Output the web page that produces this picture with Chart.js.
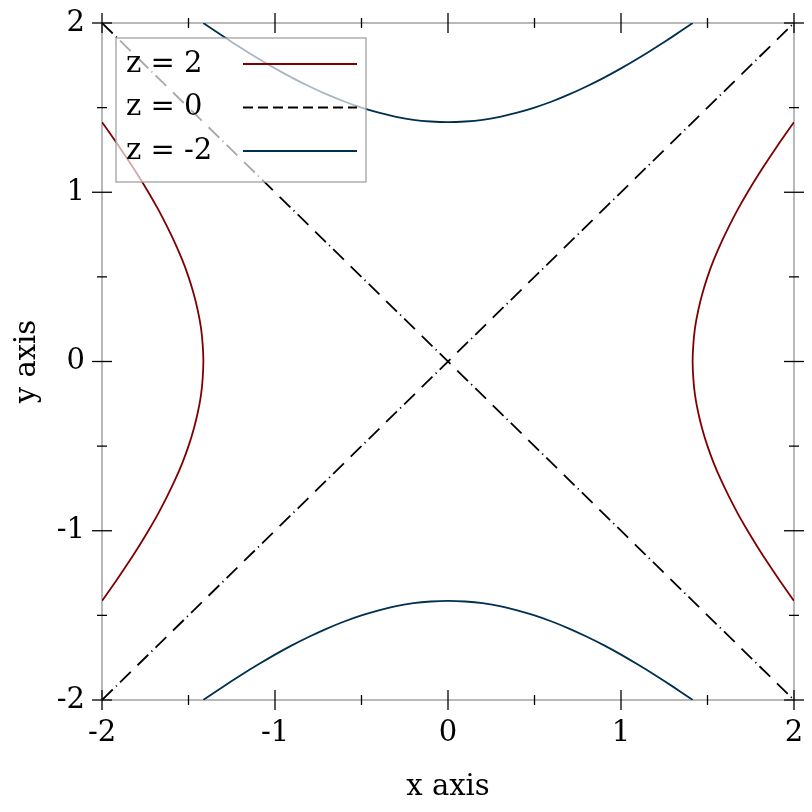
<!DOCTYPE html>
<html>
<head>
<meta charset="utf-8">
<script src="https://cdn.jsdelivr.net/npm/chart.js"></script>
<style>
  html, body { margin: 0; padding: 0; background: #ffffff; }
  #wrap { width: 812px; height: 812px; }
</style>
</head>
<body>
<div id="wrap"><canvas id="contourChart" width="812" height="812"></canvas></div>
<script>
// Etiquetas de la leyenda y colores
const legendLabels = ['z = 2', 'z = 0', 'z = -2'];
const lineColors = ['#800000', '#000000', '#003050'];

// Marcas de los ejes
const majorTicks = [-2, -1, 0, 1, 2];
const minorTicks = [-1.5, -0.5, 0.5, 1.5];

// z = 2, rama derecha e izquierda
const z2RightX = [2.0, 1.99, 1.921, 1.855, 1.792, 1.732, 1.676, 1.625, 1.578, 1.536, 1.5, 1.47, 1.446, 1.428, 1.418, 1.414,
                  1.418, 1.428, 1.446, 1.47, 1.5, 1.536, 1.578, 1.625, 1.676, 1.732, 1.792, 1.855, 1.921, 1.99, 2.0];
const z2RightY = [-1.414, -1.4, -1.3, -1.2, -1.1, -1.0, -0.9, -0.8, -0.7, -0.6, -0.5, -0.4, -0.3, -0.2, -0.1, 0,
                  0.1, 0.2, 0.3, 0.4, 0.5, 0.6, 0.7, 0.8, 0.9, 1.0, 1.1, 1.2, 1.3, 1.4, 1.414];
const z2LeftX = [-2.0, -1.99, -1.921, -1.855, -1.792, -1.732, -1.676, -1.625, -1.578, -1.536, -1.5, -1.47, -1.446, -1.428, -1.418, -1.414,
                 -1.418, -1.428, -1.446, -1.47, -1.5, -1.536, -1.578, -1.625, -1.676, -1.732, -1.792, -1.855, -1.921, -1.99, -2.0];
const z2LeftY = [-1.414, -1.4, -1.3, -1.2, -1.1, -1.0, -0.9, -0.8, -0.7, -0.6, -0.5, -0.4, -0.3, -0.2, -0.1, 0,
                 0.1, 0.2, 0.3, 0.4, 0.5, 0.6, 0.7, 0.8, 0.9, 1.0, 1.1, 1.2, 1.3, 1.4, 1.414];

// z = 0, las dos diagonales
const z0UpX = [-2, 2];
const z0UpY = [-2, 2];
const z0DownX = [-2, 2];
const z0DownY = [2, -2];

// z = -2, rama superior e inferior
const zm2TopX = [-1.414, -1.4, -1.3, -1.2, -1.1, -1.0, -0.9, -0.8, -0.7, -0.6, -0.5, -0.4, -0.3, -0.2, -0.1, 0,
                 0.1, 0.2, 0.3, 0.4, 0.5, 0.6, 0.7, 0.8, 0.9, 1.0, 1.1, 1.2, 1.3, 1.4, 1.414];
const zm2TopY = [2.0, 1.99, 1.921, 1.855, 1.792, 1.732, 1.676, 1.625, 1.578, 1.536, 1.5, 1.47, 1.446, 1.428, 1.418, 1.414,
                 1.418, 1.428, 1.446, 1.47, 1.5, 1.536, 1.578, 1.625, 1.676, 1.732, 1.792, 1.855, 1.921, 1.99, 2.0];
const zm2BotX = [-1.414, -1.4, -1.3, -1.2, -1.1, -1.0, -0.9, -0.8, -0.7, -0.6, -0.5, -0.4, -0.3, -0.2, -0.1, 0,
                 0.1, 0.2, 0.3, 0.4, 0.5, 0.6, 0.7, 0.8, 0.9, 1.0, 1.1, 1.2, 1.3, 1.4, 1.414];
const zm2BotY = [-2.0, -1.99, -1.921, -1.855, -1.792, -1.732, -1.676, -1.625, -1.578, -1.536, -1.5, -1.47, -1.446, -1.428, -1.418, -1.414,
                 -1.418, -1.428, -1.446, -1.47, -1.5, -1.536, -1.578, -1.625, -1.676, -1.732, -1.792, -1.855, -1.921, -1.99, -2.0];

const FONT = 'DejaVu Serif';
const FONT_SIZE = 29;
const DASH_DOT = [15, 4.5, 1.2, 4.5, 15, 9.5];

function toPoints(xs, ys) {
    return xs.map((x, i) => ({ x: x, y: ys[i] }));
}

function curve(xs, ys, color, dash) {
    return {
        data: toPoints(xs, ys),
        showLine: true,
        borderColor: color,
        borderWidth: 1.8,
        borderDash: dash || [],
        pointRadius: 0,
        tension: dash ? 0 : 0.2,
        fill: false
    };
}

// Marco, marcas y leyenda dibujados a mano
const framePlugin = {
    id: 'frame',
    beforeDatasetsDraw(chart) {
        const ctx = chart.ctx;
        const { left, right, top, bottom } = chart.chartArea;
        const xs = chart.scales.x;
        const ys = chart.scales.y;
        ctx.save();
        ctx.strokeStyle = '#8a8a8a';
        ctx.lineWidth = 1.2;
        ctx.strokeRect(left, top, right - left, bottom - top);

        ctx.strokeStyle = '#000000';
        ctx.lineWidth = 1.3;
        function tick(px, py, horiz, half) {
            ctx.beginPath();
            if (horiz) { ctx.moveTo(px - half, py); ctx.lineTo(px + half, py); }
            else { ctx.moveTo(px, py - half); ctx.lineTo(px, py + half); }
            ctx.stroke();
        }
        [[majorTicks, 10], [minorTicks, 5]].forEach(([vals, half]) => {
            vals.forEach(v => {
                const px = xs.getPixelForValue(v);
                const py = ys.getPixelForValue(v);
                tick(px, bottom, false, half);
                tick(px, top, false, half);
                tick(left, py, true, half);
                tick(right, py, true, half);
            });
        });
        ctx.restore();
    },
    afterDatasetsDraw(chart) {
        const ctx = chart.ctx;
        const { left, top } = chart.chartArea;
        const bx = left + 14, by = top + 15, bw = 250, bh = 144;
        ctx.save();
        ctx.fillStyle = 'rgba(255,255,255,0.66)';
        ctx.fillRect(bx, by, bw, bh);
        ctx.strokeStyle = '#9a9a9a';
        ctx.lineWidth = 1.2;
        ctx.strokeRect(bx, by, bw, bh);
        ctx.font = FONT_SIZE + 'px "' + FONT + '"';
        ctx.textBaseline = 'middle';
        ctx.fillStyle = '#000000';
        legendLabels.forEach((label, i) => {
            const ry = by + 26 + i * 43.5;
            ctx.fillText(label, bx + 10, ry);
            ctx.beginPath();
            ctx.strokeStyle = lineColors[i];
            ctx.lineWidth = 1.8;
            ctx.setLineDash(i === 1 ? [10, 5] : []);
            ctx.moveTo(bx + 127, ry);
            ctx.lineTo(bx + 241, ry);
            ctx.stroke();
        });
        ctx.restore();
    }
};

const ctx = document.getElementById('contourChart').getContext('2d');
new Chart(ctx, {
    type: 'scatter',
    data: {
        datasets: [
            curve(z2RightX, z2RightY, lineColors[0]),
            curve(z2LeftX, z2LeftY, lineColors[0]),
            curve(z0UpX, z0UpY, lineColors[1], DASH_DOT),
            curve(z0DownX, z0DownY, lineColors[1], DASH_DOT),
            curve(zm2TopX, zm2TopY, lineColors[2]),
            curve(zm2BotX, zm2BotY, lineColors[2])
        ]
    },
    options: {
        responsive: false,
        animation: false,
        layout: { padding: { left: 0, right: 18, top: 23, bottom: 0 } },
        plugins: {
            legend: { display: false },
            tooltip: { enabled: false }
        },
        scales: {
            x: {
                type: 'linear',
                min: -2,
                max: 2,
                afterFit(scale) {
                    scale.height = 112;
                    scale.paddingLeft = 0;
                    scale.paddingRight = 0;
                },
                afterBuildTicks(scale) { scale.ticks = majorTicks.map(v => ({ value: v })); },
                grid: { display: false },
                border: { display: false },
                ticks: {
                    autoSkip: false,
                    maxRotation: 0,
                    padding: 8,
                    color: '#000000',
                    font: { family: FONT, size: FONT_SIZE }
                },
                title: {
                    display: true,
                    text: 'x axis',
                    color: '#000000',
                    padding: { top: 7, bottom: 7 },
                    font: { family: FONT, size: FONT_SIZE }
                }
            },
            y: {
                type: 'linear',
                min: -2,
                max: 2,
                afterFit(scale) {
                    scale.width = 102;
                    scale.paddingTop = 0;
                    scale.paddingBottom = 0;
                },
                afterBuildTicks(scale) { scale.ticks = majorTicks.map(v => ({ value: v })); },
                grid: { display: false },
                border: { display: false },
                ticks: {
                    autoSkip: false,
                    padding: 9,
                    color: '#000000',
                    font: { family: FONT, size: FONT_SIZE }
                },
                title: {
                    display: true,
                    text: 'y axis',
                    color: '#000000',
                    padding: { top: 10, bottom: 10 },
                    font: { family: FONT, size: FONT_SIZE }
                }
            }
        }
    },
    plugins: [framePlugin]
});
</script>
</body>
</html>
